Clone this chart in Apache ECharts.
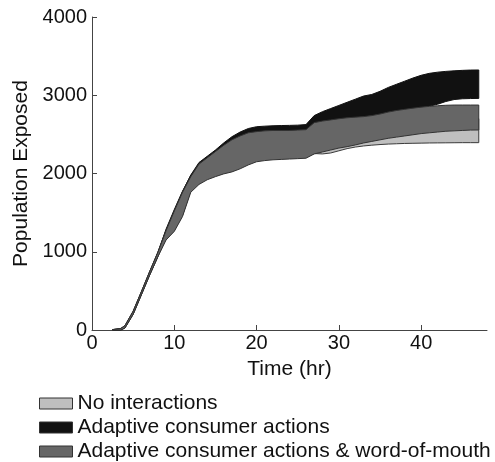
<!DOCTYPE html>
<html>
<head>
<meta charset="utf-8">
<script src="https://cdn.jsdelivr.net/npm/echarts@6/dist/echarts.min.js"></script>
<style>
  html, body { margin: 0; padding: 0; background: #fff; }
  #chart { width: 495px; height: 462px; }
</style>
</head>
<body>
<div id="chart"></div>
<script>
// time points (hr)
var time = [2.5, 3.5, 4, 5, 6, 7, 8, 9, 10, 11, 12, 13, 14, 15, 16, 17, 18, 19, 20, 21, 22, 23, 24, 25, 26, 27,
  28, 29, 30, 31, 32, 33, 34, 35, 36, 37, 38, 39, 40, 41, 42, 43, 44, 45, 46, 47]

// No interactions: lower / upper envelope
var noIntLo = [0, 0, 30, 205, 455, 705, 940, 1165, 1275, 1465, 1775, 1875, 1935, 1975, 2010, 2035, 2075, 2125, 2165, 2180, 2190, 2195, 2200, 2205, 2210, 2255,
  2250, 2262, 2290, 2318, 2338, 2352, 2362, 2370, 2376, 2380, 2384, 2386, 2388, 2390, 2391, 2392, 2393, 2394, 2394, 2394]
var noIntHi = [5, 15, 50, 235, 485, 740, 985, 1290, 1540, 1775, 1975, 2100, 2180, 2260, 2340, 2410, 2460, 2500, 2515, 2525, 2530, 2530, 2530, 2535, 2540, 2560,
  2580, 2600, 2615, 2625, 2635, 2645, 2652, 2660, 2668, 2675, 2680, 2685, 2688, 2690, 2692, 2694, 2696, 2698, 2700, 2700]

// Adaptive consumer actions
var adaptLo = [0, 0, 25, 200, 450, 700, 935, 1230, 1480, 1720, 1920, 2080, 2160, 2240, 2320, 2390, 2440, 2480, 2495, 2505, 2510, 2510, 2510, 2515, 2520, 2610,
  2630, 2645, 2660, 2672, 2680, 2687, 2700, 2720, 2745, 2765, 2780, 2795, 2810, 2860, 2885, 2920, 2945, 2955, 2958, 2960]
var adaptHi = [5, 20, 55, 240, 490, 745, 995, 1280, 1530, 1770, 1980, 2140, 2220, 2300, 2390, 2470, 2530, 2575, 2598, 2605, 2610, 2613, 2615, 2618, 2625, 2740,
  2790, 2830, 2870, 2910, 2950, 2990, 3010, 3050, 3100, 3140, 3180, 3220, 3255, 3280, 3295, 3305, 3312, 3318, 3322, 3323]

// Adaptive consumer actions & word-of-mouth
var womLo = [0, 0, 25, 200, 450, 700, 935, 1150, 1260, 1450, 1760, 1860, 1920, 1960, 1995, 2020, 2060, 2110, 2150, 2165, 2175, 2180, 2185, 2190, 2195, 2250,
  2275, 2300, 2325, 2343, 2365, 2390, 2410, 2430, 2450, 2465, 2480, 2495, 2510, 2520, 2530, 2540, 2545, 2550, 2555, 2556]
var womHi = [5, 20, 55, 240, 490, 745, 990, 1270, 1520, 1760, 1960, 2120, 2200, 2280, 2360, 2430, 2480, 2520, 2535, 2545, 2550, 2550, 2550, 2555, 2560, 2650,
  2670, 2685, 2700, 2712, 2720, 2727, 2740, 2760, 2785, 2805, 2820, 2835, 2848, 2858, 2866, 2872, 2875, 2875, 2875, 2875]

var xTicks = [0, 10, 20, 30, 40]

var names = ['No interactions', 'Adaptive consumer actions', 'Adaptive consumer actions & word-of-mouth']
var fills = ['#bfbfbf', '#111111', '#666666']
var edges = ['#3a3a3a', '#111111', '#333333']

// one filled polygon between lower and upper envelope, placed with api.coord
function band(idx, lo, hi) {
  return {
    name: names[idx],
    type: 'custom',
    itemStyle: { color: fills[idx] },
    encode: { x: 0, y: [1, 2] },
    data: time.map(function(t, i) { return [t, lo[i], hi[i]] }),
    renderItem: function(params, api) {
      if (params.dataIndex !== 0) return
      var pts = []
      for (var i = 0; i < time.length; i++) pts.push(api.coord([time[i], hi[i]]))
      for (var j = time.length - 1; j >= 0; j--) pts.push(api.coord([time[j], lo[j]]))
      return {
        type: 'polygon',
        shape: { points: pts },
        style: { fill: fills[idx], stroke: edges[idx], lineWidth: 1 }
      }
    }
  }
}

var myChart = echarts.init(document.getElementById('chart'))
var font = '"Liberation Sans", Arial, sans-serif'

var option = {
  animation: false,
  backgroundColor: '#fff',
  grid: { left: 92, right: 8, top: 17, bottom: 132 },
  legend: {
    orient: 'vertical',
    left: 39,
    top: 393,
    height: 90,
    padding: 0,
    itemWidth: 33,
    itemHeight: 11,
    itemGap: 3,
    icon: 'rect',
    selectedMode: false,
    textStyle: { fontFamily: font, fontSize: 21, color: '#111' },
    data: names.map(function(n, i) {
      return { name: n, itemStyle: { color: fills[i], borderColor: '#333', borderWidth: 1 } }
    })
  },
  xAxis: {
    type: 'value',
    min: 0,
    max: 48,
    interval: 10,
    name: 'Time (hr)',
    nameLocation: 'middle',
    nameGap: 29,
    nameTextStyle: { fontFamily: font, fontSize: 21, color: '#111' },
    axisLine: { lineStyle: { color: '#444', width: 1 } },
    axisTick: { inside: true, length: 5, lineStyle: { color: '#444' }, customValues: xTicks },
    axisLabel: { fontFamily: font, fontSize: 20, color: '#111', margin: 3, customValues: xTicks },
    splitLine: { show: false }
  },
  yAxis: {
    type: 'value',
    min: 0,
    max: 4000,
    interval: 1000,
    name: 'Population Exposed',
    nameLocation: 'middle',
    nameRotate: 90,
    nameGap: 44,
    nameTextStyle: { fontFamily: font, fontSize: 21, color: '#111' },
    axisLine: { show: true, lineStyle: { color: '#444', width: 1 } },
    axisTick: { show: true, inside: true, length: 5, lineStyle: { color: '#444' } },
    axisLabel: {
      fontFamily: font, fontSize: 20, color: '#111', margin: 5,
      formatter: function(v) { return String(v) }
    },
    splitLine: { show: false }
  },
  series: [
    band(0, noIntLo, noIntHi),
    band(1, adaptLo, adaptHi),
    band(2, womLo, womHi)
  ]
}

myChart.setOption(option)
</script>
</body>
</html>
